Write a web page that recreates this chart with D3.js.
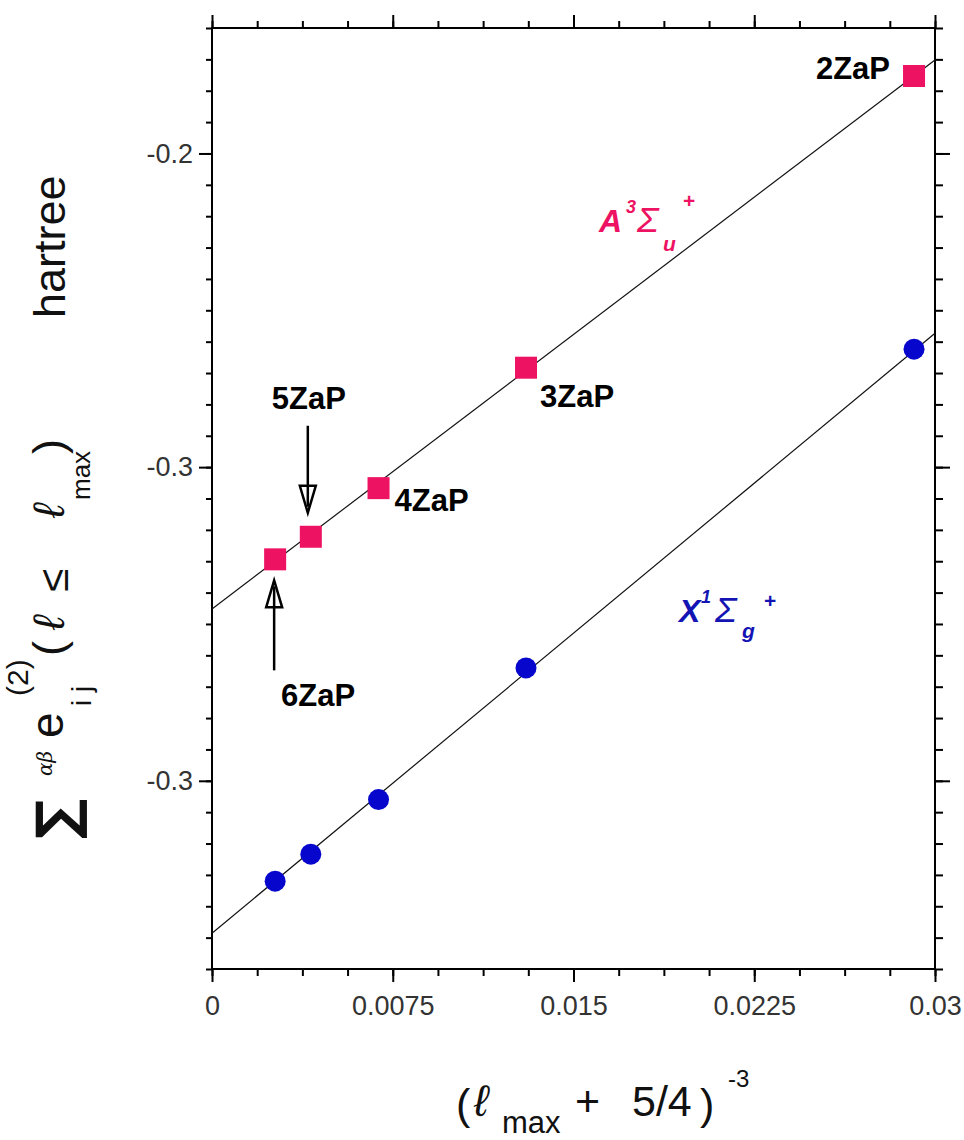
<!DOCTYPE html>
<html>
<script src='https://d3js.org/d3.v7.min.js'></script>
<head>
<title>ZaP extrapolation</title>
<style>
body {margin:0; background-color:#ffffff;}
svg text {font-family:'Liberation Sans', Arial, sans-serif;}
.tick text {fill:#333; font-size:27px;}
</style>
</head>
<body>
<svg width=964 height=1140></svg>

<script>
// basis sets and x = (lmax + 5/4)^-3
var zap = ['2ZaP','3ZaP','4ZaP','5ZaP','6ZaP']
var xVals = [0.02913, 0.01303, 0.00691, 0.00410, 0.00262]
// A 3Sigma_u+ (squares) and X 1Sigma_g+ (circles), hartree
var aVals = [-0.1753, -0.2683, -0.3067, -0.3222, -0.3294]
var xsVals = [-0.2624, -0.3640, -0.4060, -0.4234, -0.4320]
// fitted lines, endpoints at x=0 and x=0.03
var aFit = [[0, -0.3452], [0.03, -0.1702]]
var xsFit = [[0, -0.4486], [0.03, -0.2573]]
// ticks
var xTicks = [0, 0.0075, 0.015, 0.0225, 0.03]
var xTickText = ['0','0.0075','0.015','0.0225','0.03']
var yTicks = [-0.2, -0.3, -0.4]
var yTickText = ['-0.2','-0.3','-0.3']

var plotL = 212, plotR = 935, plotT = 28, plotB = 969
var pink = '#ee1262'
var blue = '#0606cc'

var x = d3.scaleLinear().domain([0, 0.03]).range([plotL, plotR])
var y = d3.scaleLinear().domain([-0.46, -0.16]).range([plotB, plotT])

var svg = d3.select('svg')

var xMinor = d3.range(0, 17).map(function(i) {return i*0.001875})
var yMinor = d3.range(0, 31).map(function(i) {return -0.46 + i*0.01})

//minor ticks
svg.append('g').attr('transform','translate(0,'+plotB+')')
   .call(d3.axisBottom(x).tickValues(xMinor).tickSize(7).tickFormat(''))
svg.append('g').attr('transform','translate(0,'+plotT+')')
   .call(d3.axisTop(x).tickValues(xMinor).tickSize(7).tickFormat(''))
svg.append('g').attr('transform','translate('+plotL+',0)')
   .call(d3.axisLeft(y).tickValues(yMinor).tickSize(6).tickFormat(''))
svg.append('g').attr('transform','translate('+plotR+',0)')
   .call(d3.axisRight(y).tickValues(yMinor).tickSize(8).tickFormat(''))

//major ticks with labels
svg.append('g').attr('transform','translate(0,'+plotB+')')
   .call(d3.axisBottom(x).tickValues(xTicks).tickSize(13).tickPadding(14)
      .tickFormat(function(d,i) {return xTickText[i]}))
svg.append('g').attr('transform','translate(0,'+plotT+')')
   .call(d3.axisTop(x).tickValues(xTicks).tickSize(13).tickFormat(''))
svg.append('g').attr('transform','translate('+plotL+',0)')
   .call(d3.axisLeft(y).tickValues(yTicks).tickSize(13).tickPadding(6)
      .tickFormat(function(d,i) {return yTickText[i]}))
svg.append('g').attr('transform','translate('+plotR+',0)')
   .call(d3.axisRight(y).tickValues(yTicks).tickSize(15).tickFormat(''))

svg.selectAll('.domain').remove()
svg.selectAll('.tick line').attr('stroke','#000').attr('stroke-width',2)

//frame
svg.append('rect')
   .attr('x',plotL).attr('y',plotT)
   .attr('width',plotR-plotL).attr('height',plotB-plotT)
   .attr('fill','none').attr('stroke','#000').attr('stroke-width',2)

//fit lines
var line = d3.line().x(function(d) {return x(d[0])}).y(function(d) {return y(d[1])})
svg.append('path').datum(aFit).attr('d',line)
   .attr('fill','none').attr('stroke','#111').attr('stroke-width',1.2)
svg.append('path').datum(xsFit).attr('d',line)
   .attr('fill','none').attr('stroke','#111').attr('stroke-width',1.2)

//squares
svg.append('g').selectAll('rect')
   .data(aVals).enter().append('rect')
   .attr('x',function(d,i) {return x(xVals[i])-11})
   .attr('y',function(d) {return y(d)-11})
   .attr('width',22).attr('height',22)
   .attr('fill',pink)

//circles
svg.append('g').selectAll('circle')
   .data(xsVals).enter().append('circle')
   .attr('cx',function(d,i) {return x(xVals[i])})
   .attr('cy',function(d) {return y(d)})
   .attr('r',10.5)
   .attr('fill',blue)

//basis set labels (offsets from the squares)
var labelPos = [
   {dx:-24, dy:3, anchor:'end'},
   {dx:14, dy:39, anchor:'start'},
   {dx:16, dy:23, anchor:'start'},
   {dx:-2, dy:-128, anchor:'middle'},
   {dx:43, dy:147, anchor:'middle'}]
svg.append('g').selectAll('text')
   .data(zap).enter().append('text')
   .attr('x',function(d,i) {return x(xVals[i])+labelPos[i].dx})
   .attr('y',function(d,i) {return y(aVals[i])+labelPos[i].dy})
   .attr('text-anchor',function(d,i) {return labelPos[i].anchor})
   .attr('font-size',31).attr('font-weight','bold')
   .text(function(d) {return d})

//arrows to 5ZaP and 6ZaP
function arrow(ax, y0, y1) {
   var dir = y1 > y0 ? 1 : -1
   svg.append('line')
      .attr('x1',ax).attr('x2',ax).attr('y1',y0).attr('y2',y1-dir*6)
      .attr('stroke','#000').attr('stroke-width',2.5)
   svg.append('path')
      .attr('d','M'+(ax-8)+','+(y1-dir*27)+' L'+ax+','+y1+' L'+(ax+8)+','+(y1-dir*27)+' Z')
      .attr('fill','none').attr('stroke','#000').attr('stroke-width',2.5)
}
arrow(x(xVals[3])-3, y(aVals[3])-111, y(aVals[3])-24)
arrow(x(xVals[4])-1, y(aVals[4])+111, y(aVals[4])+21)

//state labels
function piece(g, px, py, str, size, style, weight) {
   g.append('text').attr('x',px).attr('y',py)
      .attr('font-size',size).attr('font-style',style).attr('font-weight',weight)
      .text(str)
}
var gA = svg.append('g').attr('fill',pink)
piece(gA, 599, 232, 'A', 32, 'italic', 'bold')
piece(gA, 626, 213, '3', 18, 'italic', 'bold')
piece(gA, 637, 232, 'Σ', 36, 'italic', 'normal')
piece(gA, 663, 251, 'u', 21, 'italic', 'bold')
piece(gA, 683, 208, '+', 21, 'normal', 'bold')

var gX = svg.append('g').attr('fill','#1414b4')
piece(gX, 679, 622, 'X', 32, 'italic', 'bold')
piece(gX, 701, 603, '1', 18, 'italic', 'bold')
piece(gX, 715, 622, 'Σ', 36, 'italic', 'normal')
piece(gX, 742, 638, 'g', 21, 'italic', 'bold')
piece(gX, 764, 608, '+', 21, 'normal', 'bold')

//x axis title
var gx = svg.append('g').attr('fill','#111')
piece(gx, 456, 1119, '(', 43, 'normal', 'normal')
piece(gx, 474, 1116, 'ℓ', 44, 'italic', 'normal')
piece(gx, 502, 1133, 'max', 31, 'normal', 'normal')
piece(gx, 575, 1116, '+', 43, 'normal', 'normal')
piece(gx, 632, 1116, '5/4', 43, 'normal', 'normal')
piece(gx, 700, 1119, ')', 43, 'normal', 'normal')
piece(gx, 728, 1087, '-3', 24, 'normal', 'normal')

//y axis title, rotated pieces: baseline x, start y
function vpiece(px, py, str, size, style, weight, fam) {
   var t = svg.append('text')
      .attr('transform','translate('+px+','+py+') rotate(-90)')
      .attr('font-size',size).attr('font-style',style).attr('font-weight',weight)
      .attr('fill','#111')
      .text(str)
   if (fam) t.style('font-family',fam)
}
vpiece(65, 318, 'hartree', 45, 'normal', 'normal')
vpiece(76, 839, '∑', 56, 'normal', 'bold', "'DejaVu Sans'")
vpiece(52, 776, 'αβ', 20, 'italic', 'normal', "'DejaVu Serif'")
vpiece(63, 738, 'e', 46, 'normal', 'normal')
vpiece(91, 706, 'i j', 28, 'normal', 'normal')
vpiece(28, 696, '(2)', 30, 'normal', 'normal')
vpiece(64, 656, '(', 45, 'normal', 'normal')
vpiece(64, 630, 'ℓ', 44, 'italic', 'normal')
vpiece(68, 592, '≤', 42, 'normal', 'normal')
vpiece(64, 518, 'ℓ', 44, 'italic', 'normal')
vpiece(90, 500, 'max', 26, 'normal', 'normal')
vpiece(64, 454, ')', 45, 'normal', 'normal')
</script>

</body>
</html>
